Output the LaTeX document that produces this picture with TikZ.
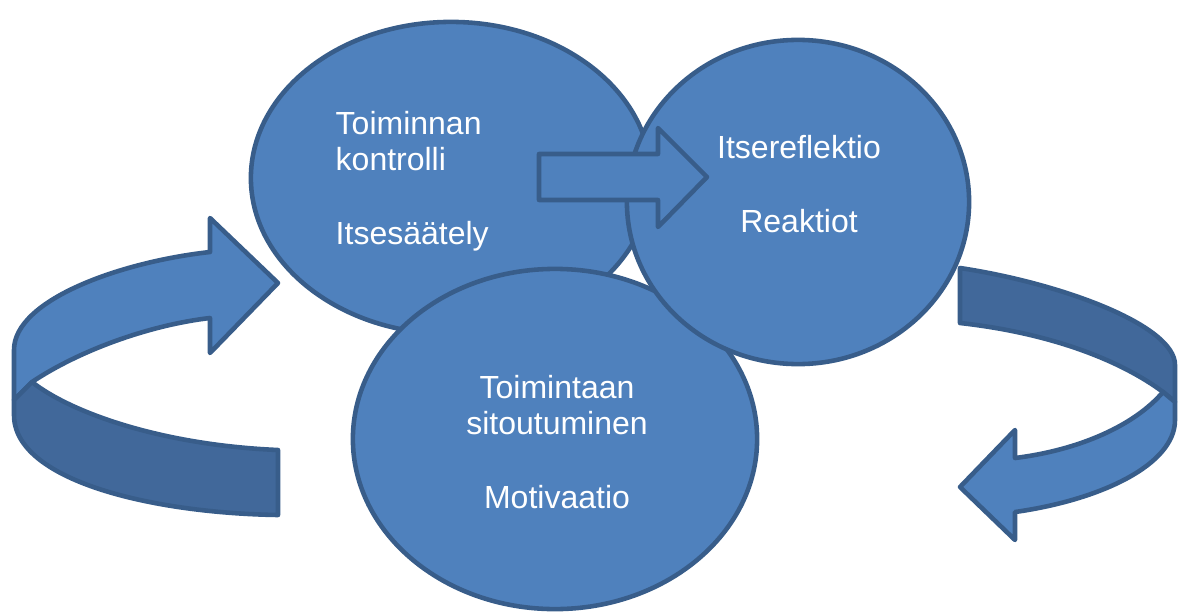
\documentclass[tikz,border=0pt]{standalone}
\usepackage{fontspec}
\setmainfont{Liberation Sans}
\usetikzlibrary{shapes.geometric}
\definecolor{blobfill}{HTML}{4F81BD}
\definecolor{blobline}{HTML}{385D8A}
\definecolor{bandshade}{HTML}{41689A}
\begin{document}
\begin{tikzpicture}[x=0.01cm,y=-0.01cm,
    blob/.style={ellipse,draw=blobline,fill=blobfill,line width=1.3pt,inner sep=0pt},
    band/.style={draw=blobline,fill=blobfill,line width=1.3pt,line join=round},
    blobtext/.style={text=white,font=\fontsize{9.1}{10.4}\selectfont,inner sep=0pt}]
    \useasboundingbox (0,0) rectangle (1179,612);

    \draw[band] (210,252) .. controls (120,262) and (14,300) .. (14,350) -- (14,400) -- (32,382) .. controls (80,350) and (150,325) .. (210,318) -- (210,353) -- (278,283) -- (210,218) -- cycle;
    \draw[band,fill=bandshade] (14,400) -- (32,382) .. controls (70,412) and (160,445) .. (278,450) -- (278,515) .. controls (150,513) and (14,480) .. (14,415) -- cycle;

    \draw[band,fill=bandshade] (960,268) .. controls (1060,283) and (1175,325) .. (1175,365) -- (1175,402) -- (1163,392) .. controls (1120,360) and (1050,333) .. (960,323) -- cycle;
    \draw[band] (1163,392) -- (1175,402) -- (1175,420) .. controls (1175,465) and (1100,500) .. (1015,512) -- (1015,540) -- (960,487) -- (1015,430) -- (1015,458) .. controls (1080,450) and (1135,425) .. (1163,392) -- cycle;

    \node[blob,minimum width=4cm,minimum height=3.12cm] (kontrolli) at (451,178) {};
    \node[blob,minimum width=4.04cm,minimum height=3.40cm] (sitoutuminen) at (555,439) {};
    \node[blob,minimum width=3.42cm,minimum height=3.24cm] (reflektio) at (798,202) {};

    \draw[band] (539,154) -- (658,154) -- (658,128) -- (707,177) -- (658,227) -- (658,200) -- (539,200) -- cycle;

    \node[blobtext,anchor=base west,align=left] (kontrolliText) at (335,244) {Toiminnan\\kontrolli\\[10.4pt]Itsesäätely};
    \node[blobtext,anchor=base,align=center] (reflektioText) at (799,232) {Itsereflektio\\[10.4pt]Reaktiot};
    \node[blobtext,anchor=base,align=center] (sitoutuminenText) at (557,508) {Toimintaan\\sitoutuminen\\[10.4pt]Motivaatio};
\end{tikzpicture}
\end{document}
